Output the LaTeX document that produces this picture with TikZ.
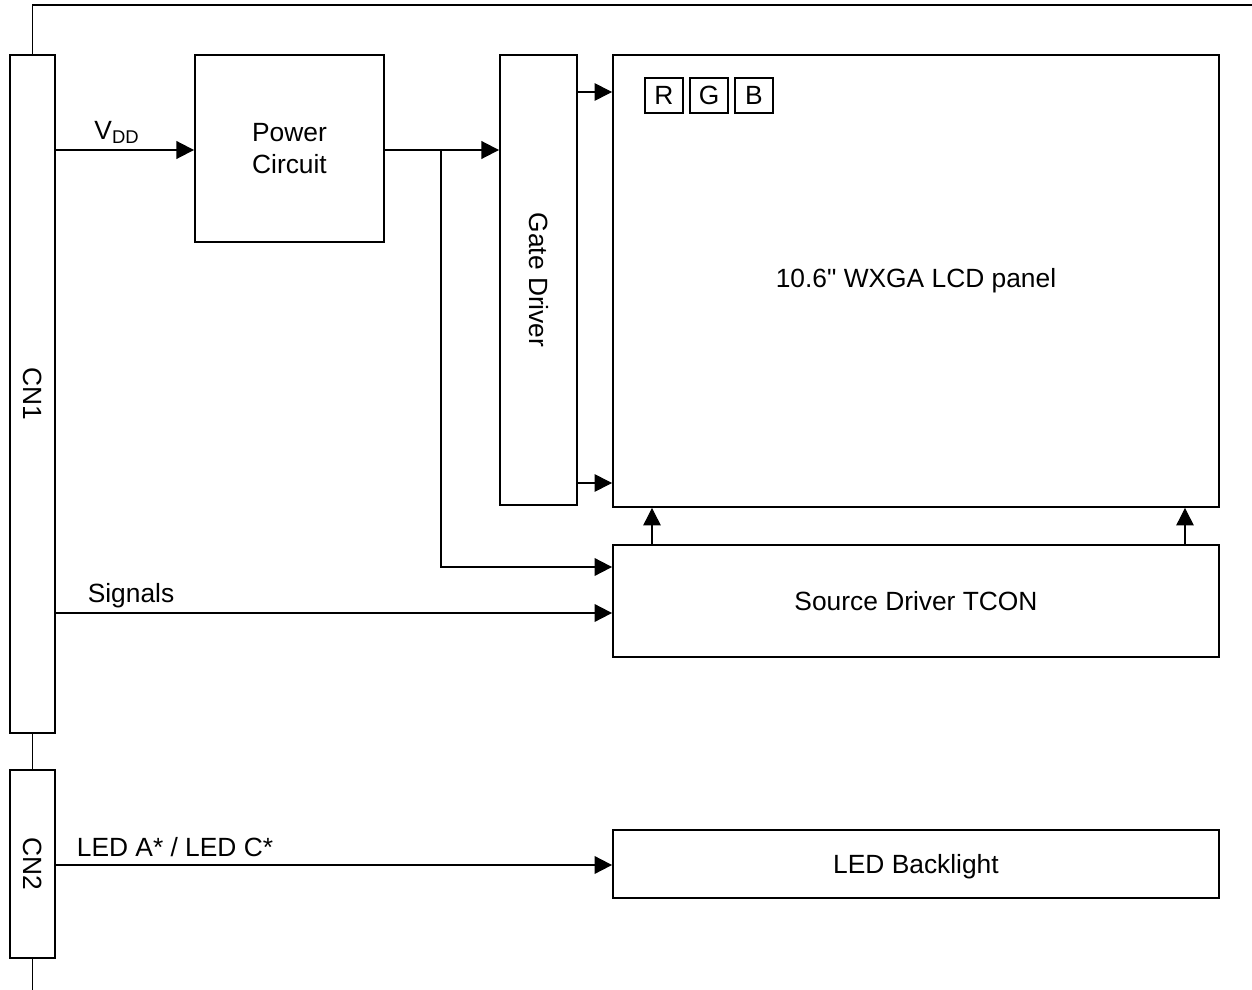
\documentclass[tikz,border=0pt]{standalone}
\usepackage{fontspec}
\setmainfont{Liberation Sans}[Ligatures=TeXOff]
\usepackage{tikz}
\usetikzlibrary{arrows.meta}

\begin{document}
\begin{tikzpicture}[x=0.02cm, y=-0.02cm,
  box/.style={draw, line width=1.1pt, rectangle, inner sep=0pt, font=\fontsize{15}{18}\selectfont, align=center},
  sbox/.style={draw, line width=0.6pt, rectangle, inner sep=0pt, minimum width=0.76cm, minimum height=0.7cm, font=\fontsize{15}{18}\selectfont},
  lab/.style={font=\fontsize{15}{18}\selectfont},
  bus/.style={line width=1.1pt, -{Triangle[length=10pt,width=10pt]}},
  sig/.style={line width=0.6pt, -{Triangle[length=10pt,width=10pt]}},
  wire/.style={line width=0.6pt}]
\useasboundingbox (0,0) rectangle (1252,990);
\node[box, minimum width=0.9cm, minimum height=13.56cm] (cnone) at (32.5,394) {\rotatebox{-90}{CN1}};
\node[box, minimum width=0.9cm, minimum height=3.76cm] (cntwo) at (32.5,864) {\rotatebox{-90}{CN2}};
\node[box, minimum width=3.78cm, minimum height=3.74cm] (pwr) at (289.5,148.5) {Power\\Circuit};
\node[box, minimum width=1.54cm, minimum height=9.0cm] (gate) at (538.5,280) {\rotatebox{-90}{Gate Driver}};
\node[box, minimum width=12.12cm, minimum height=9.04cm] (lcd) at (916,281) {10.6" WXGA LCD panel};
\node[box, minimum width=12.12cm, minimum height=2.24cm] (src) at (916,601) {Source Driver TCON};
\node[box, minimum width=12.12cm, minimum height=1.36cm] (led) at (916,864) {\raisebox{0pt}[\height][0pt]{LED Backlight}};
\node[sbox] (r) at (664,95.5) {R};
\node[sbox] (g) at (709,95.5) {G};
\node[sbox] (b) at (754,95.5) {B};
\node[lab] (vdd) at (117,132) {V\textsubscript{DD}};
\node[lab] (signals) at (131,596) {Signals};
\node[lab] (ledac) at (175,847) {LED A* / LED C*};
\coordinate (corner) at (32.5,5);
\coordinate (edge) at (1252,5);
\coordinate (bottom) at (32.5,990);
\coordinate (split) at (441,150);
\draw[wire] (cnone.north) -- (corner) -- (edge);
\draw[wire] (cnone.south) -- (cntwo.north);
\draw[wire] (cntwo.south) -- (bottom);
\draw[bus] (cnone.east |- 0,150) -- (pwr.west |- 0,150);
\draw[bus] (pwr.east |- 0,150) -- (gate.west |- 0,150);
\draw[bus] (split) |- (src.west |- 0,567);
\draw[bus] (cnone.east |- 0,613) -- (src.west |- 0,613);
\draw[bus] (cntwo.east |- 0,865) -- (led.west |- 0,865);
\draw[sig] (gate.east |- 0,92) -- (lcd.west |- 0,92);
\draw[sig] (gate.east |- 0,483) -- (lcd.west |- 0,483);
\draw[sig] (src.north -| 652,0) -- (lcd.south -| 652,0);
\draw[sig] (src.north -| 1185,0) -- (lcd.south -| 1185,0);
\end{tikzpicture}
\end{document}
